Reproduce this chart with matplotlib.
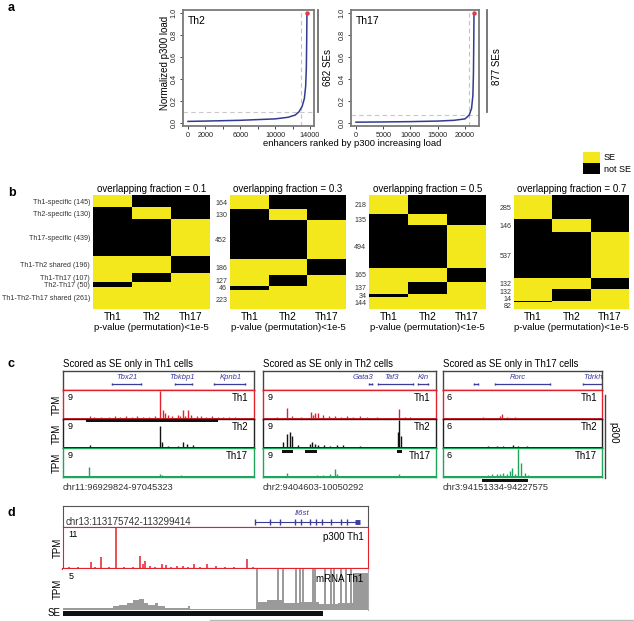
import matplotlib

matplotlib.use("Agg")
import matplotlib.pyplot as plt
import numpy as np
from matplotlib.colors import ListedColormap
from matplotlib.lines import Line2D
from matplotlib.patches import Rectangle

plt.rcParams["font.family"] = ["Liberation Sans", "DejaVu Sans"]

W, H = 634, 621

# ---------------- panel a: ranked p300 load ----------------
th2_rank = [1, 2000, 6000, 10000, 11500, 12300, 12740, 13100, 13350, 13500, 13580, 13620, 13650]
th2_load = [0.012, 0.015, 0.022, 0.035, 0.05, 0.07, 0.10, 0.15, 0.22, 0.33, 0.5, 0.75, 1.0]
th2_n_se = 682
th2_cut = 0.10
th17_rank = [1, 5000, 10000, 15000, 18000, 20000, 20773, 21200, 21450, 21550, 21610, 21650]
th17_load = [0.005, 0.007, 0.01, 0.015, 0.022, 0.035, 0.07, 0.13, 0.25, 0.45, 0.75, 1.0]
th17_n_se = 877
th17_cut = 0.07
th2_xticks = [0, 2000, 4000, 6000, 8000, 10000, 12000, 14000]
th2_xlabels = ["0", "2000", "", "6000", "", "10000", "", "14000"]
th17_xticks = [0, 5000, 10000, 15000, 20000]

# ---------------- panel b: overlap heatmaps ----------------
cells = ["Th1", "Th2", "Th17"]
groups = ["Th1-specific", "Th2-specific", "Th17-specific", "Th1-Th2 shared",
          "Th1-Th17", "Th2-Th17", "Th1-Th2-Th17 shared"]
membership = [[1, 0, 0], [0, 1, 0], [0, 0, 1], [1, 1, 0], [1, 0, 1], [0, 1, 1], [1, 1, 1]]
fractions = [0.1, 0.3, 0.5, 0.7]
counts_01 = [145, 130, 439, 196, 107, 50, 261]
counts_03 = [164, 130, 452, 186, 127, 46, 223]
counts_05 = [218, 135, 494, 165, 137, 34, 144]
counts_07 = [285, 146, 537, 132, 132, 14, 82]

# ---------------- panel c: browser tracks (position in % of locus, height in % of max) ----------------
c_titles = ["Scored as SE only in Th1 cells", "Scored as SE only in Th2 cells",
            "Scored as SE only in Th17 cells"]
c_regions = ["chr11:96929824-97045323", "chr2:9404603-10050292", "chr3:94151334-94227575"]
c_scale = ["9", "9", "6"]

c1_th1_pos = [3, 8, 14, 16, 20, 24, 27, 29.8, 33, 36, 39, 41.9, 45, 48, 50.8, 52.4, 53.5, 55, 57, 60.2,
              61.5, 63, 64, 65.6, 67, 70, 72, 75, 78, 81, 84, 87, 90, 94, 98]
c1_th1_h = [4, 5, 10, 6, 8, 6, 9, 8, 10, 7, 9, 8, 8, 10, 96, 30, 20, 14, 10, 15, 10, 30, 12, 30, 14, 12,
            9, 8, 9, 6, 8, 6, 7, 5, 4]
c1_th2_pos = [5, 14, 20, 28, 35, 42, 48, 50.8, 52, 55, 60, 63, 65, 68, 72, 80, 88, 95]
c1_th2_h = [3, 10, 4, 4, 3, 4, 5, 75, 20, 6, 6, 22, 15, 10, 4, 4, 3, 3]
c1_th17_pos = [4, 10, 13.7, 18, 25, 32, 38, 45, 50.8, 52, 56, 62, 66, 72, 78, 85, 92, 97]
c1_th17_h = [3, 4, 35, 4, 5, 4, 5, 5, 12, 8, 5, 6, 5, 4, 5, 4, 4, 3]

c2_th1_pos = [3, 8, 14, 17, 22, 28, 29, 30, 32, 34.7, 38, 41.6, 45, 48.4, 52, 56, 60, 65.7, 70, 74, 78.8,
              82, 85, 90, 95]
c2_th1_h = [5, 6, 37, 10, 8, 25, 15, 20, 20, 15, 10, 10, 8, 10, 6, 10, 6, 8, 5, 5, 35, 6, 6, 5, 4]
c2_th2_pos = [3, 8, 11.6, 14, 15.4, 16.8, 20, 27, 28.5, 30, 32, 35, 39, 42.6, 46, 50, 56, 62, 70, 78,
              78.8, 79.6, 85, 92]
c2_th2_h = [3, 4, 20, 50, 55, 40, 10, 15, 20, 15, 12, 12, 6, 10, 12, 5, 6, 4, 4, 55, 96, 40, 4, 3]
c2_th17_pos = [4, 9, 14, 20, 27, 31, 34.7, 38.7, 41.6, 43, 48, 55, 62, 70, 78.8, 85, 93]
c2_th17_h = [3, 4, 15, 5, 5, 6, 8, 10, 28, 12, 5, 5, 4, 4, 12, 4, 3]

c3_th1_pos = [5, 12, 20, 25.4, 30, 35.8, 36.9, 40, 45, 52, 63, 72, 86, 94]
c3_th1_h = [3, 3, 4, 6, 5, 12, 18, 8, 6, 5, 5, 3, 4, 3]
c3_th2_pos = [6, 15, 22, 28.3, 33.8, 37.5, 40, 44.2, 47.4, 52.6, 57, 65, 75, 88, 95]
c3_th2_h = [3, 3, 4, 8, 8, 6, 5, 10, 8, 6, 5, 4, 3, 3, 3]
c3_th17_pos = [5, 14.9, 20, 25.2, 28, 30.6, 33.8, 36, 37.9, 40, 42, 43.2, 45, 47.4, 49, 51.6, 53.7,
               58, 63, 70, 84, 93]
c3_th17_h = [3, 5, 4, 5, 8, 10, 12, 10, 15, 12, 20, 30, 12, 96, 50, 15, 8, 5, 5, 4, 4, 3]

# SE intervals (% of locus)
c1_se = [(12, 81)]
c2_se = [(11, 17.5), (24, 31.5), (77.5, 80.5)]
c3_se = [(24.5, 53.5)]

# gene annotations: name, start, end, label position
c1_genes = [("Tbx21", 25.7, 40.8, 33.5), ("Tbkbp1", 58.6, 67.5, 62.3), ("Kpnb1", 79, 95.3, 88)]
c2_genes = [("Gata3", 61, 63, 57.8), ("Taf3", 66.5, 86.7, 74.6), ("Kin", 89.6, 95.4, 92.5)]
c3_genes = [("", 19.5, 22, 20.8), ("Rorc", 32.7, 67.3, 47.2), ("Tdrkh", 88, 100, 94.3)]

# ---------------- panel d: Il6st locus ----------------
d_p300_pos = [2, 5, 7, 9.2, 10.5, 12.4, 15, 17.4, 20, 23, 25.3, 26.3, 27, 28.5, 30, 32.3, 33.8, 35.5,
              37.3, 39.4, 41, 43, 45, 47.1, 50.2, 53, 56, 60.2, 62.4, 66, 70, 75, 80, 85, 90, 95, 99]
d_p300_h = [4, 5, 3, 17, 4, 28, 4, 100, 4, 5, 30, 12, 20, 6, 5, 12, 10, 5, 8, 8, 5, 12, 5, 12, 7,
            4, 4, 24, 5, 3, 3, 3, 3, 3, 3, 3, 3]
mrna_edges = [0, 16.5, 18.5, 21, 23, 25, 26.5, 28, 30, 31, 33.5, 41, 41.8, 63.5, 67, 72, 78, 84, 90,
              95, 100]
mrna_level = [4, 10, 13, 17, 24, 28, 18, 12, 16, 10, 5, 10, 3, 20, 25, 18, 20, 15, 17, 90]
mrna_exon = [63.5, 70.4, 72.2, 76.4, 77.7, 78.6, 82, 82.6, 85.9, 88, 89, 91.2, 92.8, 94.5]
il6st_exons = [63, 68, 71, 76, 78, 81, 83, 85, 88, 91, 93]

red = "#E3202B"
green = "#1DA65A"
yellow = "#F2E81C"
gene_col = "#3B3B9C"
grey_txt = "#333333"


def add_ax(l, t, r, b):
    return fig.add_axes([l / W, 1 - b / H, (r - l) / W, (b - t) / H])


def ftext(x, y, s, **kw):
    fig.text(x / W, 1 - y / H, s, **kw)


fig = plt.figure(figsize=(6.34, 6.21), dpi=100)

# ---- a ----
ftext(8, 8, "a", fontsize=9, fontweight="bold", va="center")


def rank_panel(l, r, rank, load, n_se, cut, xlim, xticks, xlabels, name):
    ax = add_ax(l, 10, r, 126)
    ax.axhline(cut, color="#C8C8C8", ls=(0, (4, 3)), lw=0.8)
    ax.axvline(rank[-1] - n_se, color="#D8B8C4", ls=(0, (4, 3)), lw=0.8)
    ax.plot(rank, load, color="#2F3C92", lw=1.1)
    ax.plot(rank[-1], load[-1], "o", color="#E23B4A", ms=2.2)
    ax.set_xlim(*xlim)
    ax.set_ylim(-0.03, 1.03)
    ax.set_xticks(xticks, xlabels)
    ax.set_yticks([0, 0.2, 0.4, 0.6, 0.8, 1.0], ["0.0", "0.2", "0.4", "0.6", "0.8", "1.0"])
    ax.tick_params(labelsize=5.2, length=2.5, width=0.7, pad=1.5, colors="#444444", labelcolor="#222222")
    for lab in ax.get_yticklabels():
        lab.set_rotation(90)
        lab.set_va("center")
    for s in ax.spines.values():
        s.set_color("#7A7A7A")
        s.set_linewidth(1.3)
    ax.text(0.04, 0.95, name, transform=ax.transAxes, fontsize=7.5, va="top")
    return ax


rank_panel(183, 314, th2_rank, th2_load, th2_n_se, th2_cut, (-574, 14459),
           th2_xticks, th2_xlabels, "Th2")
rank_panel(351, 479, th17_rank, th17_load, th17_n_se, th17_cut, (-917, 22569),
           th17_xticks, [str(t) for t in th17_xticks], "Th17")
ftext(165, 63, "Normalized p300 load", fontsize=7, rotation=90, ha="center", va="center")
ftext(352, 143, "enhancers ranked by p300 increasing load", fontsize=6.8, ha="center", va="center")
for x, label in [(318, f"{th2_n_se} SEs"), (487, f"{th17_n_se} SEs")]:
    fig.add_artist(Line2D([x / W] * 2, [1 - 10 / H, 1 - 112 / H], color="#6E6E6E", lw=1.3))
    ftext(x + 10, 67, label, fontsize=7, rotation=90, ha="center", va="center")

# ---- b ----
ftext(8, 193, "b", fontsize=9, fontweight="bold", va="center")
cmap = ListedColormap(["#000000", yellow])
hm_boxes = [(93, 210), (230, 346), (369, 486), (514, 629)]
all_counts = [counts_01, counts_03, counts_05, counts_07]
for k, ((l, r), counts, frac) in enumerate(zip(hm_boxes, all_counts, fractions)):
    ax = add_ax(l, 195, r, 309)
    edges = np.concatenate([[0], np.cumsum(counts)])
    ax.pcolormesh(np.arange(4), edges, np.array(membership), cmap=cmap, vmin=0, vmax=1)
    ax.set_xlim(0, 3)
    ax.set_ylim(edges[-1], 0)
    for s in ax.spines.values():
        s.set_visible(False)
    ax.set_xticks([0.5, 1.5, 2.5], cells)
    # keep count labels readable where rows are thin
    gap = 7 * edges[-1] / 114
    centers = (edges[:-1] + edges[1:]) / 2
    ypos = list(centers)
    for i in range(len(ypos) - 2, -1, -1):
        ypos[i] = min(ypos[i], ypos[i + 1] - gap)
    labels = [f"{g} ({c})" for g, c in zip(groups, counts)] if k == 0 else [str(c) for c in counts]
    ax.set_yticks(ypos, labels)
    ax.tick_params(axis="y", length=0, labelsize=5.1, pad=2, labelcolor=grey_txt)
    ax.tick_params(axis="x", length=0, labelsize=7.5, pad=2)
    ax.set_title(f"overlapping fraction = {frac}", fontsize=7, pad=2.5)
    ftext((l + r) / 2, 328, "p-value (permutation)<1e-5", fontsize=6.8, ha="center", va="center")

fig.add_artist(Rectangle((583 / W, 1 - 163 / H), 17 / W, 11 / H, transform=fig.transFigure,
                         color=yellow, lw=0))
fig.add_artist(Rectangle((583 / W, 1 - 174 / H), 17 / W, 11 / H, transform=fig.transFigure,
                         color="#000000", lw=0))
ftext(604, 157, "SE", fontsize=6.5, va="center")
ftext(604, 170, "not SE", fontsize=6.5, va="center")

# ---- c ----
ftext(8, 364, "c", fontsize=9, fontweight="bold", va="center")


def gene_track(ax, genes):
    ax.set_xlim(0, 100)
    ax.set_ylim(0, 1)
    ax.set_xticks([])
    ax.set_yticks([])
    for s in ax.spines.values():
        s.set_color("#444444")
        s.set_linewidth(1.0)
    for name, s0, s1, tx in genes:
        ax.plot([s0, s1], [0.3, 0.3], color=gene_col, lw=0.9)
        ax.plot([s0, s1], [0.3, 0.3], color=gene_col, lw=0, marker="|", ms=2)
        if name:
            ax.text(tx, 0.68, name, fontsize=5.5, style="italic", color=gene_col, ha="center", va="center")


def signal_track(ax, pos, hts, color, scale, name, spine):
    ax.set_xlim(0, 100)
    ax.set_ylim(0, 100)
    ax.fill_between([0, 100], 0, 2.5, color=color, lw=0)
    ax.vlines(pos, 0, hts, color=color, lw=1.0)
    ax.set_xticks([])
    ax.set_yticks([])
    for s in ax.spines.values():
        s.set_color(spine)
        s.set_linewidth(1.0)
    ax.text(2.5, 88, scale, fontsize=6.5, va="top")
    ax.text(97, 88, name, fontsize=7, ha="right", va="top")


c_boxes = [(63, 254), (263, 436), (443, 602)]
c_genes = [c1_genes, c2_genes, c3_genes]
c_tracks = [
    [(c1_th1_pos, c1_th1_h), (c1_th2_pos, c1_th2_h), (c1_th17_pos, c1_th17_h)],
    [(c2_th1_pos, c2_th1_h), (c2_th2_pos, c2_th2_h), (c2_th17_pos, c2_th17_h)],
    [(c3_th1_pos, c3_th1_h), (c3_th2_pos, c3_th2_h), (c3_th17_pos, c3_th17_h)],
]
c_se = [c1_se, c2_se, c3_se]
se_rows = [421, 451.5, 480.5]
track_rows = [(390, 419), (419, 448), (448, 477)]
track_cols = [red, "#111111", green]
track_spines = [red, "#222222", green]
for j, ((l, r), genes, tracks, ses) in enumerate(zip(c_boxes, c_genes, c_tracks, c_se)):
    gene_track(add_ax(l, 371, r, 390), genes)
    for (t, b), (pos, hts), col, sp, cell in zip(track_rows, tracks, track_cols, track_spines, cells):
        ax = add_ax(l, t, r, b)
        signal_track(ax, pos, hts, col, c_scale[j], cell, sp)
        if j == 0:
            ftext(l - 6, (t + b) / 2, "TPM", fontsize=7, rotation=90, ha="center", va="center")
    ov = add_ax(l, 360, r, 490)
    ov.set_xlim(0, 100)
    ov.set_ylim(490, 360)
    ov.axis("off")
    for s0, s1 in ses:
        ov.fill_between([s0, s1], se_rows[j] - 1.5, se_rows[j] + 1.5, color="#111111", lw=0)
    ftext(l, 364, c_titles[j], fontsize=6.9, va="center")
    ftext(l, 488, c_regions[j], fontsize=6.7, va="center", color=grey_txt)

fig.add_artist(Line2D([605 / W] * 2, [1 - 395 / H, 1 - 478 / H], color="#444444", lw=1.0))
ftext(613, 433, "p300", fontsize=7, rotation=-90, ha="center", va="center")

# ---- d ----
ftext(8, 513, "d", fontsize=9, fontweight="bold", va="center")
ax = add_ax(63, 506, 368, 527)
ax.set_xlim(0, 100)
ax.set_ylim(0, 1)
ax.set_xticks([])
ax.set_yticks([])
for s in ax.spines.values():
    s.set_color("#555555")
ax.plot([63, 95.7], [0.25, 0.25], color=gene_col, lw=0.8)
ax.plot(il6st_exons, [0.25] * len(il6st_exons), lw=0, marker="|", ms=4, color=gene_col)
ax.plot([95.7, 97.5], [0.25, 0.25], color=gene_col, lw=3.5, solid_capstyle="butt")
ax.text(78.4, 0.62, "Il6st", fontsize=5.8, style="italic", color=gene_col, ha="center", va="center")
ax.text(0.8, 0.22, "chr13:113175742-113299414", fontsize=7, va="center", color=grey_txt)

ax = add_ax(63, 527, 368, 569)
ax.set_xlim(0, 100)
ax.set_ylim(0, 100)
ax.fill_between([0, 100], 0, 2.5, color=red, lw=0)
ax.vlines(d_p300_pos, 0, d_p300_h, color=red, lw=1.1)
ax.set_xticks([])
ax.set_yticks([])
for s in ax.spines.values():
    s.set_color(red)
ax.spines["bottom"].set_linewidth(1.6)
ax.text(1.8, 92, "11", fontsize=6.5, va="top")
ax.text(98.5, 88, "p300 Th1", fontsize=7, ha="right", va="top")
ftext(58, 548, "TPM", fontsize=7, rotation=90, ha="center", va="center")

ax = add_ax(63, 569, 368, 610)
ax.set_xlim(0, 100)
ax.set_ylim(0, 100)
ax.stairs(mrna_level, mrna_edges, fill=True, color="#9A9A9A", lw=0)
ax.vlines(mrna_exon, 0, 100, color="#9A9A9A", lw=1.4)
ax.set_xticks([])
ax.set_yticks([])
for s in ax.spines.values():
    s.set_visible(False)
ax.spines["right"].set_visible(True)
ax.spines["right"].set_color("#AAAAAA")
ax.text(1.8, 92, "5", fontsize=6.5, va="top")
ax.text(98.5, 88, "mRNA Th1", fontsize=7, ha="right", va="top")
ftext(58, 589, "TPM", fontsize=7, rotation=90, ha="center", va="center")

ax = add_ax(63, 611, 368, 616)
ax.set_xlim(0, 100)
ax.set_ylim(0, 1)
ax.axis("off")
ax.fill_between([0, 85.3], 0, 1, color="#111111", lw=0)
ftext(61, 613.5, "SE", fontsize=7, ha="right", va="center")

fig.add_artist(Line2D([210 / W, 634 / W], [1 - 620 / H] * 2, color="#BBBBBB", lw=1.0))

fig.savefig("out.png", dpi=100)
plt.close(fig)
